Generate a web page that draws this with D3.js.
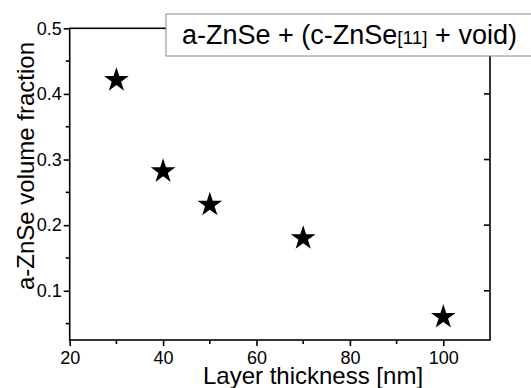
<!DOCTYPE html>
<html>
<head>
<meta charset="utf-8">
<script src="https://cdn.jsdelivr.net/npm/d3@7"></script>
<style>
  body { margin: 0; background: #fff; }
  svg { display: block; font-family: 'Liberation Sans', Arial, sans-serif; }
</style>
</head>
<body>
<svg id="chart" width="531" height="388"></svg>
<script>
// data
const thickness = [30, 40, 50, 70, 100]
const fraction = [0.421, 0.282, 0.231, 0.180, 0.060]
const xTicks = [20, 40, 60, 80, 100]
const xMinor = [30, 50, 70, 90]
const yTicks = [0.1, 0.2, 0.3, 0.4, 0.5]
const yMinor = [0.05, 0.15, 0.25, 0.35, 0.45]

const width = 531
const height = 388
const margin = { top: 28.3, right: 41, bottom: 48, left: 69.7 }

const svg = d3.select('#chart')

const x = d3.scaleLinear()
  .domain([20, 110])
  .range([margin.left, width - margin.right])

const y = d3.scaleLinear()
  .domain([0.025, 0.5])
  .range([height - margin.bottom, margin.top])

const plotLeft = x(20)
const plotRight = x(110)
const plotTop = y(0.5)
const plotBottom = y(0.025)

// bottom axis
const xAxis = svg.append('g')
  .attr('transform', `translate(0,${plotBottom})`)
  .call(d3.axisBottom(x).tickValues(xTicks).tickSize(6).tickSizeOuter(0).tickFormat(d3.format('d')))
xAxis.select('.domain').remove()
xAxis.selectAll('line').attr('stroke-width', 1.6)
xAxis.selectAll('text')
  .attr('font-size', 18).attr('font-family', 'Liberation Sans')
  .attr('y', 23.5).attr('dy', 0).attr('fill', '#000')

svg.append('g').selectAll('line')
  .data(xMinor)
  .enter().append('line')
  .attr('x1', d => x(d)).attr('x2', d => x(d))
  .attr('y1', plotBottom).attr('y2', plotBottom + 4)
  .attr('stroke', '#000').attr('stroke-width', 1.6)

// left axis
const yAxis = svg.append('g')
  .attr('transform', `translate(${plotLeft},0)`)
  .call(d3.axisLeft(y).tickValues(yTicks).tickSize(6).tickSizeOuter(0).tickFormat(d3.format('.1f')))
yAxis.select('.domain').remove()
yAxis.selectAll('line').attr('stroke-width', 1.6)
yAxis.selectAll('text')
  .attr('font-size', 18).attr('font-family', 'Liberation Sans')
  .attr('x', -8).attr('fill', '#000')

svg.append('g').selectAll('line')
  .data(yMinor)
  .enter().append('line')
  .attr('x1', plotLeft - 4).attr('x2', plotLeft)
  .attr('y1', d => y(d)).attr('y2', d => y(d))
  .attr('stroke', '#000').attr('stroke-width', 1.6)

// right axis ticks, pointing inward
svg.append('g').selectAll('line')
  .data(yTicks)
  .enter().append('line')
  .attr('x1', plotRight - 6).attr('x2', plotRight)
  .attr('y1', d => y(d)).attr('y2', d => y(d))
  .attr('stroke', '#000').attr('stroke-width', 1.6)

// frame
svg.append('rect')
  .attr('x', plotLeft).attr('y', plotTop)
  .attr('width', plotRight - plotLeft).attr('height', plotBottom - plotTop)
  .attr('fill', 'none').attr('stroke', '#000').attr('stroke-width', 1.6)

// stars
const star = d3.symbol().type(d3.symbolStar).size(190)
svg.append('g').selectAll('path')
  .data(thickness)
  .enter().append('path')
  .attr('d', star)
  .attr('transform', (d, i) => `translate(${x(d)},${y(fraction[i])})`)
  .attr('fill', '#000')

// legend box
svg.append('rect')
  .attr('x', 166).attr('y', 14)
  .attr('width', 370).attr('height', 42)
  .attr('fill', '#fff').attr('stroke', '#888').attr('stroke-width', 1)

const label = svg.append('text')
  .attr('x', 182).attr('y', 44)
  .attr('font-size', 27).attr('fill', '#000')
label.append('tspan').text('a-ZnSe + (c-ZnSe')
label.append('tspan').attr('font-size', 19).text('[11]')
label.append('tspan').text(' + void)')

// axis titles
svg.append('text')
  .attr('x', 313).attr('y', 384)
  .attr('text-anchor', 'middle').attr('font-size', 24)
  .text('Layer thickness [nm]')

svg.append('text')
  .attr('transform', 'translate(34,166) rotate(-90)')
  .attr('text-anchor', 'middle').attr('font-size', 24)
  .text('a-ZnSe volume fraction')
</script>
</body>
</html>
